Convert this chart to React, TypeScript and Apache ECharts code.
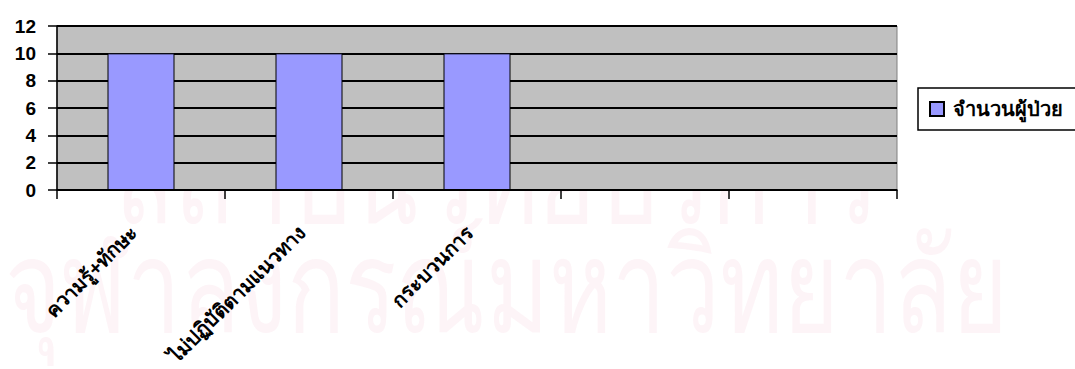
import React, { useEffect, useRef } from "react";
import * as echarts from "echarts";

const categories = ["ความรู้+ทักษะ", "ไม่ปฏิบัติตามแนวทาง", "กระบวนการ", "", ""];
const patientCounts: (number | string)[] = [10, 10, 10, "-", "-"];
const seriesName = "จำนวนผู้ป่วย";
const yTicks = { min: 0, max: 12, interval: 2 };
const watermarkLines = ["สถาบันวิทยบริการ", "จุฬาลงกรณ์มหาวิทยาลัย"];

export default function App() {
  const ref = useRef<HTMLDivElement>(null);
  useEffect(() => {
    if (!ref.current) return;
    const chart = echarts.init(ref.current, null, { renderer: "svg" });
    const font = "Arial, 'Liberation Sans', 'Noto Sans', sans-serif";
    chart.setOption({
      animation: false,
      backgroundColor: "#ffffff",
      textStyle: { fontFamily: font },
      grid: {
        left: 57,
        right: 178,
        top: 26,
        bottom: 179,
        show: true,
        backgroundColor: "#C0C0C0",
        borderColor: "#808080",
        borderWidth: 1,
      },
      legend: {
        left: 918,
        top: 88,
        orient: "vertical",
        data: [seriesName],
        icon: "rect",
        itemWidth: 14,
        itemHeight: 14,
        borderColor: "#000",
        borderWidth: 1.5,
        padding: [11, 30, 11, 11],
        textStyle: { fontSize: 20, fontWeight: "bold", color: "#000", fontFamily: font, padding: [0, 0, 0, 4] },
      },
      xAxis: {
        type: "category",
        data: categories,
        boundaryGap: true,
        axisLine: { lineStyle: { color: "#000", width: 1.5 } },
        axisTick: { show: true, length: 9, lineStyle: { color: "#000", width: 1.5 } },
        axisLabel: {
          rotate: 45,
          margin: 32,
          fontSize: 20,
          fontWeight: "bold",
          color: "#000",
          fontFamily: font,
          interval: 0,
          padding: [0, 10, 0, 0],
        },
        splitLine: { show: false },
      },
      yAxis: {
        type: "value",
        min: yTicks.min,
        max: yTicks.max,
        interval: yTicks.interval,
        axisLine: { show: true, lineStyle: { color: "#000", width: 1.5 } },
        axisTick: { show: true, length: 9, lineStyle: { color: "#000", width: 1.5 } },
        axisLabel: { margin: 21, fontSize: 19, fontWeight: "bold", color: "#000", fontFamily: font },
        splitLine: { show: true, lineStyle: { color: "#000", width: 2 } },
      },
      series: [
        {
          name: seriesName,
          type: "bar",
          data: patientCounts,
          barWidth: 67,
          itemStyle: { color: "#9999FF", borderColor: "#000", borderWidth: 1 },
        },
      ],
      graphic: [
        {
          type: "text",
          x: 115,
          y: 115,
          scaleY: 1.3,
          silent: true,
          z: -1,
          style: {
            text: watermarkLines[0],
            fontSize: 98,
            fontFamily: font,
            fill: "rgba(210,40,90,0.05)",
          },
        },
        {
          type: "text",
          x: 5,
          y: 222,
          scaleY: 1.35,
          silent: true,
          z: -1,
          style: {
            text: watermarkLines[1],
            fontSize: 96,
            fontFamily: font,
            fill: "rgba(210,40,90,0.05)",
          },
        },
      ],
    });
    return () => chart.dispose();
  }, []);
  return (
    <div
      ref={ref}
      style={{ position: "fixed", left: 0, top: 0, width: 1075, height: 369 }}
    />
  );
}
